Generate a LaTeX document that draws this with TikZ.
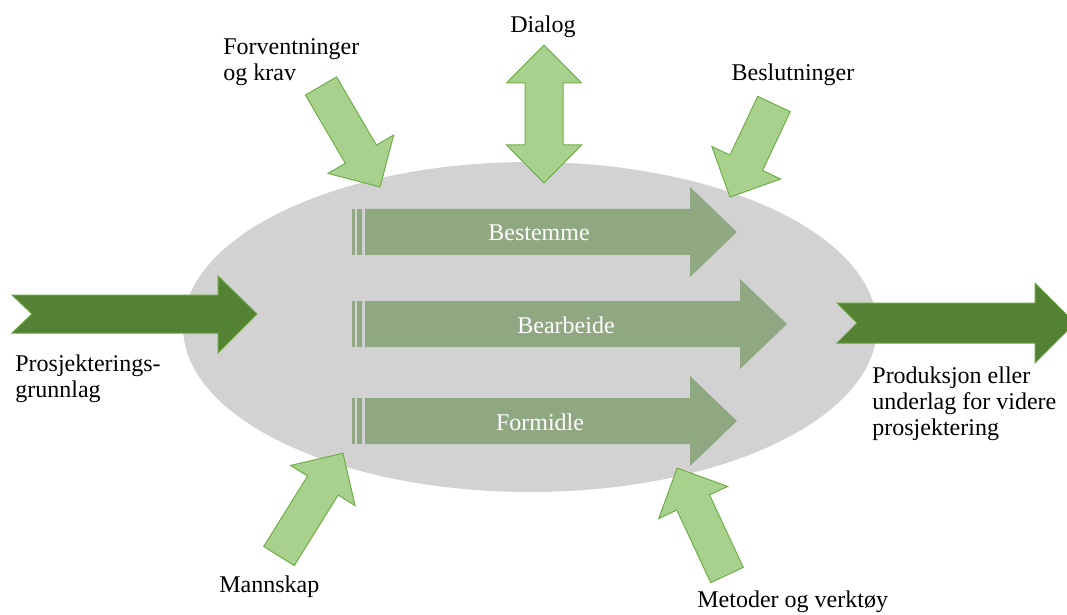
\documentclass[tikz,border=0pt]{standalone}
\usepackage{fontspec}
\setmainfont{Liberation Serif}
\definecolor{ovalgrey}{RGB}{210,210,210}
\definecolor{flowgreen}{RGB}{143,168,130}
\definecolor{darkgreen}{RGB}{84,130,53}
\definecolor{lightgreen}{RGB}{169,209,142}
\definecolor{edgegreen}{RGB}{112,173,71}
\tikzset{
  lbl/.style={font=\fontsize{12}{13}\selectfont, inner sep=0pt, align=left},
  flowlbl/.style={font=\fontsize{12}{13}\selectfont, text=white, inner sep=0pt},
  inarrow/.style={fill=lightgreen, draw=edgegreen, line width=0.5pt, line join=miter},
  bigarrow/.style={fill=darkgreen, draw=edgegreen!80!darkgreen, line width=0.5pt},
}
% light green block arrow: tail centre, angle, length
\newcommand{\blockarrow}[3]{%
  \draw[inarrow, shift={#1}, rotate=#2] (0,-18) -- ({#3-38},-18) -- ({#3-38},-38)
    -- (#3,0) -- ({#3-38},38) -- ({#3-38},18) -- (0,18) -- cycle;}
% striped arrow inside the oval: centre y, head base x
\newcommand{\flowarrow}[2]{%
  \fill[flowgreen] (352,{#1-23}) rectangle (354.5,{#1+23});
  \fill[flowgreen] (357,{#1-23}) rectangle (362,{#1+23});
  \fill[flowgreen] (365,{#1-23}) -- (#2,{#1-23}) -- (#2,{#1-45}) -- ({#2+47},#1)
    -- (#2,{#1+45}) -- (#2,{#1+23}) -- (365,{#1+23}) -- cycle;}

\begin{document}
\begin{tikzpicture}[x=0.5pt,y=-0.5pt]
\useasboundingbox (0,0) rectangle (1067,615);
\fill[ovalgrey] (530,327) ellipse (347 and 165); % the process
\flowarrow{232}{690}
\flowarrow{324}{740}
\flowarrow{421}{690}
\node[flowlbl] (bestemme) at (539,233) {Bestemme};
\node[flowlbl] (bearbeide) at (566,325) {Bearbeide};
\node[flowlbl] (formidle) at (540,422) {Formidle};
% inputs from above and below
\blockarrow{(321,86)}{-59.7}{117}
\blockarrow{(774,104)}{-115.3}{103}
\blockarrow{(279,556)}{58.1}{121}
\blockarrow{(727,575)}{115}{118}
\draw[inarrow] (544,45) -- (581.5,83) -- (563,83) -- (563,145) -- (581.5,145)
  -- (544,183) -- (506.5,145) -- (525,145) -- (525,83) -- (506.5,83) -- cycle; % dialog
% in and out
\draw[bigarrow] (12,295) -- (218,295) -- (218,276) -- (257,314) -- (218,353)
  -- (218,333) -- (12,333) -- (32,314) -- cycle;
\draw[bigarrow] (837,303) -- (1035,303) -- (1035,283) -- (1075,323) -- (1035,363)
  -- (1035,343) -- (837,343) -- (857,323) -- cycle;
\node[lbl, anchor=base west] (forv) at (223,81) {Forventninger\\og krav};
\node[lbl, anchor=base] (dialog) at (543,33) {Dialog};
\node[lbl, anchor=base] (beslut) at (793,81) {Beslutninger};
\node[lbl, anchor=base west] (grunnlag) at (15,397) {Prosjekterings-\\grunnlag};
\node[lbl, anchor=base west] (produksjon) at (872,435) {Produksjon eller\\underlag for videre\\prosjektering};
\node[lbl, anchor=base west] (mannskap) at (219,592) {Mannskap};
\node[lbl, anchor=base west] (metoder) at (697,607) {Metoder og verktøy};
\end{tikzpicture}
\end{document}
